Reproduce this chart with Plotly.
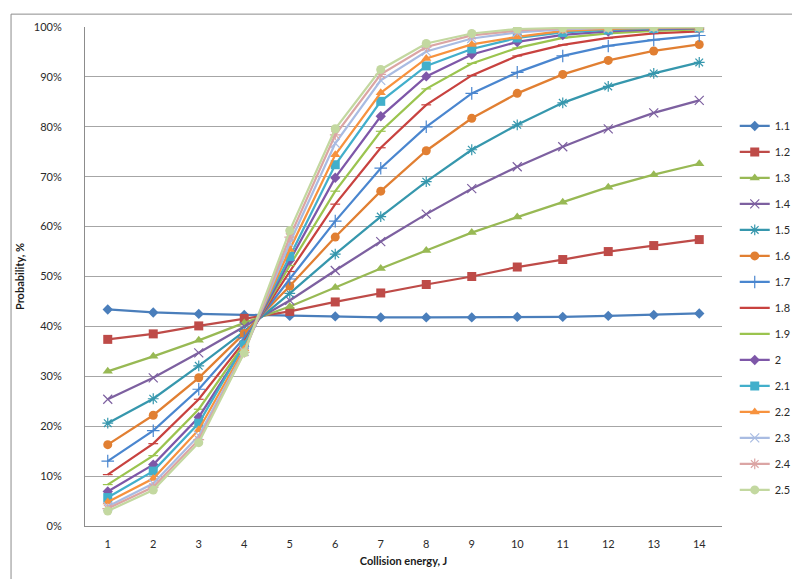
import plotly.graph_objects as go

# Collision energy, J (categories)
energy = [1, 2, 3, 4, 5, 6, 7, 8, 9, 10, 11, 12, 13, 14]

# Probability, % for each series
p_1_1 = [43.4, 42.8, 42.5, 42.3, 42.1, 42.0, 41.8, 41.8, 41.8, 41.9, 41.9, 42.1, 42.3, 42.6]
p_1_2 = [37.4, 38.5, 40.1, 41.6, 43.0, 44.9, 46.7, 48.4, 50.0, 51.9, 53.4, 55.0, 56.2, 57.4]
p_1_3 = [31.0, 34.0, 37.2, 40.7, 44.0, 47.8, 51.6, 55.2, 58.8, 61.9, 64.9, 67.9, 70.4, 72.6]
p_1_4 = [25.4, 29.7, 34.7, 40.0, 45.2, 51.2, 57.0, 62.5, 67.6, 72.0, 76.0, 79.6, 82.8, 85.3]
p_1_5 = [20.6, 25.5, 32.1, 39.0, 46.6, 54.5, 62.0, 69.0, 75.4, 80.4, 84.8, 88.1, 90.7, 92.9]
p_1_6 = [16.3, 22.2, 29.7, 38.6, 48.1, 57.9, 67.1, 75.2, 81.7, 86.7, 90.5, 93.3, 95.2, 96.5]
p_1_7 = [13.0, 19.1, 27.4, 37.7, 49.5, 61.1, 71.7, 80.0, 86.7, 90.9, 94.2, 96.2, 97.4, 98.3]
p_1_8 = [10.3, 16.5, 25.4, 37.0, 51.0, 64.5, 75.8, 84.4, 90.3, 94.2, 96.4, 97.8, 98.7, 99.1]
p_1_9 = [8.3, 14.1, 23.4, 36.5, 52.2, 67.1, 79.1, 87.6, 92.7, 95.8, 97.8, 98.7, 99.2, 99.5]
p_2_0 = [6.9, 12.3, 21.8, 36.0, 53.2, 69.8, 82.1, 90.1, 94.5, 97.0, 98.4, 99.1, 99.5, 99.7]
p_2_1 = [5.7, 11.0, 20.6, 36.3, 54.0, 72.4, 85.1, 92.2, 95.6, 97.8, 98.9, 99.4, 99.7, 99.8]
p_2_2 = [4.8, 9.5, 19.3, 35.5, 55.4, 74.4, 86.8, 93.7, 96.5, 98.0, 99.2, 99.6, 99.8, 99.9]
p_2_3 = [3.9, 8.5, 18.1, 35.0, 56.7, 76.7, 89.3, 95.1, 97.7, 98.9, 99.5, 99.8, 99.9, 100.0]
p_2_4 = [3.5, 7.8, 17.3, 34.8, 57.9, 78.4, 90.5, 96.0, 98.3, 99.3, 99.7, 99.9, 100.0, 100.0]
p_2_5 = [3.0, 7.2, 16.7, 34.7, 59.2, 79.6, 91.5, 96.7, 98.7, 99.6, 99.8, 99.9, 100.0, 100.0]

series_names = ["1.1", "1.2", "1.3", "1.4", "1.5", "1.6", "1.7", "1.8",
                "1.9", "2", "2.1", "2.2", "2.3", "2.4", "2.5"]
series_values = [p_1_1, p_1_2, p_1_3, p_1_4, p_1_5, p_1_6, p_1_7, p_1_8,
                 p_1_9, p_2_0, p_2_1, p_2_2, p_2_3, p_2_4, p_2_5]

y_ticks = [0, 10, 20, 30, 40, 50, 60, 70, 80, 90, 100]
y_tick_labels = ["0%", "10%", "20%", "30%", "40%", "50%", "60%", "70%", "80%", "90%", "100%"]

colors = ["#4A7EBB", "#BE4B48", "#98B954", "#7D60A0", "#3697AD", "#E17F32",
          "#4A86CF", "#C8423F", "#9BC44F", "#7E57A8", "#42AFCB", "#F7923E",
          "#A9BCE2", "#DBA5A4", "#C3D8A0"]
symbols = ["diamond", "square", "triangle-up", "x-thin", "asterisk", "circle",
           "cross-thin", "line-ew", "line-ew", "diamond", "square", "triangle-up",
           "x-thin", "asterisk", "circle"]
sizes = [8, 9, 9, 9, 9, 9, 9, 7, 7, 8, 9, 9, 9, 9, 9]

fig = go.Figure()
for name, vals, c, s, sz in zip(series_names, series_values, colors, symbols, sizes):
    thin = s in ("x-thin", "asterisk", "cross-thin", "line-ew")
    fig.add_trace(go.Scatter(
        x=energy, y=vals, name=name, legendgroup=name,
        mode="lines+markers",
        line=dict(color=c, width=2.25),
        marker=dict(symbol=s, size=sz, color=c,
                    line=dict(color=c, width=1.2 if thin else 0)),
    ))

font = "Lato, 'Open Sans', sans-serif"
fig.update_layout(
    width=800, height=579,
    margin=dict(l=76, r=78, t=14, b=61),
    paper_bgcolor="white", plot_bgcolor="white",
    font=dict(family=font, size=11, color="#2A2A2A"),
    showlegend=True,
    legend=dict(x=1.02, y=0.437, xanchor="left", yanchor="middle",
                font=dict(size=11, color="#2A2A2A"), tracegroupgap=7,
                itemwidth=30),
    xaxis=dict(
        range=[0.5, 14.5], tickvals=energy, ticktext=[str(e) for e in energy],
        showgrid=False, zeroline=False, showline=True, linecolor="#8C8C8C",
        linewidth=1, ticks="", ticklabelstandoff=8,
        title=dict(text="<b>Collision energy, J</b>", font=dict(size=11, color="#1A1A1A"),
                   standoff=8),
    ),
    yaxis=dict(
        range=[0, 100], tickvals=y_ticks, ticktext=y_tick_labels,
        showgrid=True, gridcolor="#A6A6A6", gridwidth=1, zeroline=False,
        showline=True, linecolor="#8C8C8C", linewidth=1, ticks="",
        ticklabelstandoff=20,
        title=dict(text="<b>Probability, %</b>", font=dict(size=11, color="#1A1A1A"),
                   standoff=6),
    ),
)

# outer chart border
pw, ph = 800 - 76 - 78, 579 - 14 - 61
fig.add_shape(type="rect", xref="paper", yref="paper",
              x0=(1 - 76) / pw, x1=(798 - 76) / pw,
              y0=(ph + 14 - 577) / ph, y1=(ph + 14 - 1) / ph,
              line=dict(color="#8C8C8C", width=1), fillcolor="rgba(0,0,0,0)",
              layer="below")

fig.write_html("out.html")
